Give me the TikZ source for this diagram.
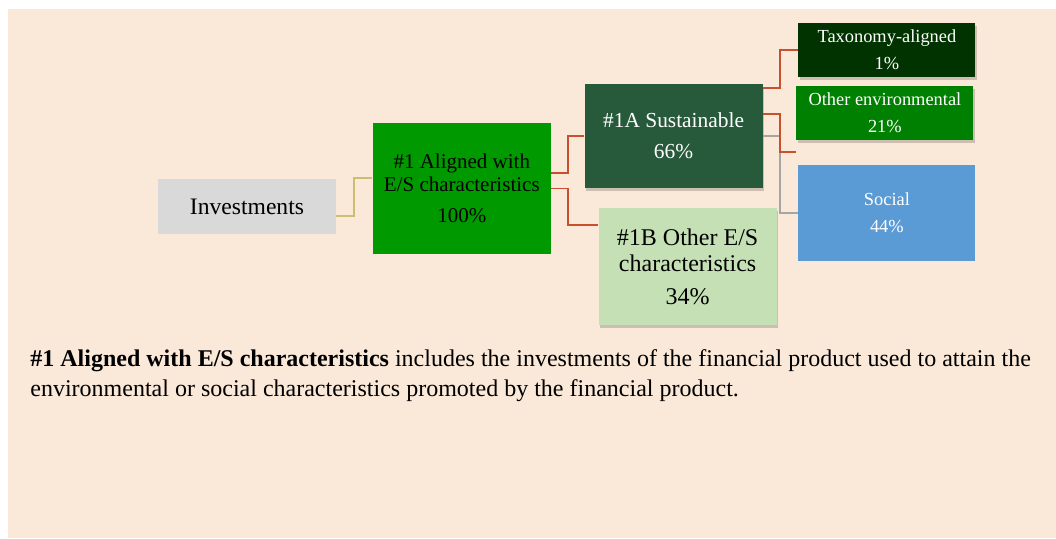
\documentclass[tikz,border=0pt]{standalone}
\usepackage{fontspec}
\setmainfont{Liberation Serif}
\usetikzlibrary{positioning,shadows}

\definecolor{peach}{HTML}{FAE8D8}
\definecolor{invgray}{HTML}{D9D9D9}
\definecolor{algreen}{HTML}{009900}
\definecolor{susgreen}{HTML}{265A3B}
\definecolor{taxgreen}{HTML}{003300}
\definecolor{envgreen}{HTML}{008000}
\definecolor{socblue}{HTML}{5B9BD5}
\definecolor{othgreen}{HTML}{C5E0B4}
\definecolor{linkred}{HTML}{C9502E}
\definecolor{linkolive}{HTML}{CBBE72}
\definecolor{linkgray}{HTML}{A5A5A5}

\tikzset{
  box/.style={rectangle, inner sep=0pt, minimum width=89pt, align=center},
  smallbox/.style={box, minimum width=88.5pt, text=white,
    font=\fontsize{9.2}{13.5}\selectfont},
  shaded/.style={drop shadow={shadow xshift=0.6pt, shadow yshift=-1.5pt,
    fill=black, opacity=0.18}},
  redlink/.style={draw=linkred, line width=0.9pt},
  olivelink/.style={draw=linkolive, line width=0.8pt},
  graylink/.style={draw=linkgray, line width=0.6pt},
}

\begin{document}
\begin{tikzpicture}
  % page and panel
  \fill[white] (0,0) rectangle (528pt,-269pt);
  \useasboundingbox (0,0) rectangle (528pt,-269pt);
  \fill[peach] (4pt,-4.5pt) rectangle (528pt,-269pt);

  % tree
  \node[box, fill=invgray, minimum height=27.5pt,
    font=\fontsize{11.8}{14}\selectfont] (inv) at (123.5pt,-103.25pt) {Investments};
  \node[box, fill=algreen, minimum height=65.5pt,
    font=\fontsize{10.5}{11.5}\selectfont, right=18pt of inv, yshift=9pt] (al)
    {\#1 Aligned with\\E/S characteristics\\[4pt]100\%};
  \node[box, shaded, fill=susgreen, text=white, minimum height=52pt,
    font=\fontsize{10.7}{15.5}\selectfont, right=16.5pt of al, yshift=26.25pt] (sus)
    {\#1A Sustainable\\66\%};
  \node[box, shaded, fill=othgreen, minimum height=58.5pt,
    font=\fontsize{12}{13}\selectfont, right=23.5pt of al, yshift=-39pt] (oth)
    {\#1B Other E/S\\characteristics\\[3.5pt]34\%};
  \node[smallbox, shaded, fill=taxgreen, minimum height=27pt,
    right=17.5pt of sus, yshift=43pt] (tax) {Taxonomy-aligned\\1\%};
  \node[smallbox, shaded, fill=envgreen, minimum height=27pt,
    right=16.5pt of sus, yshift=11.5pt] (env) {Other environmental\\21\%};
  \node[smallbox, fill=socblue, minimum height=48pt,
    right=17.5pt of sus, yshift=-38.5pt] (soc) {Social\\44\%};

  % connectors
  \draw[olivelink] ([yshift=-4.75pt]inv.east) -- ++(8.75pt,0) |- ([yshift=5.25pt]al.west);
  \draw[redlink] ([yshift=7.75pt]al.east) -- ++(8.5pt,0) |- (sus.west);
  \draw[redlink] (al.east) -- ++(8.5pt,0) |- ([yshift=20.75pt]oth.west);
  \draw[graylink] (sus.east) -- ++(8.5pt,0) |- (soc.west);
  \draw[redlink] ([yshift=24pt]sus.east) -- ++(8.5pt,0) |- (tax.west);
  \coordinate (envend) at ([yshift=-19.5pt]env.west);
  \draw[redlink] ([yshift=11pt]sus.east) -- ++(8.5pt,0) |- (envend);

  % note under the tree
  \node[anchor=north west, inner sep=0pt, align=left,
    font=\fontsize{12}{15}\selectfont] (note) at (15pt,-174.8pt)
    {\textbf{\#1 Aligned with E/S characteristics} includes the investments of the financial product used to attain the\\
     environmental or social characteristics promoted by the financial product.};
\end{tikzpicture}
\end{document}
